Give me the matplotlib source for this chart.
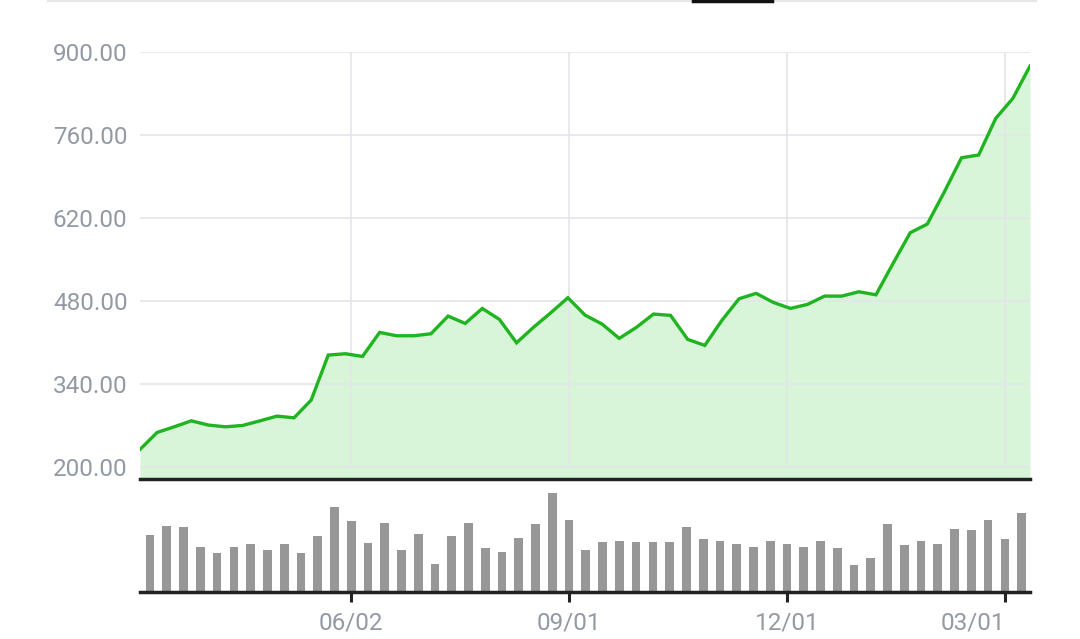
import matplotlib
matplotlib.use("Agg")
import matplotlib.pyplot as plt
from matplotlib.lines import Line2D
import numpy as np

plt.rcParams['font.family'] = ['Roboto', 'DejaVu Sans']

# ---- data ----
price = [229.8, 258.5, 268.0, 278.1, 270.9, 268.0, 270.3, 278.0, 286.0, 283.2,
         313.0, 389.0, 391.2, 386.7, 427.2, 421.5, 421.5, 424.9, 454.7, 442.3,
         467.6, 449.1, 409.7, 436.0, 460.3, 485.6, 456.4, 441.2, 417.1, 435.6,
         458.1, 455.9, 415.4, 405.3, 447.6, 483.9, 493.0, 477.8, 467.6, 474.4,
         488.4, 488.4, 495.7, 490.6, 543.6, 595.2, 609.9, 664.4, 721.7, 726.3,
         788.2, 821.9, 876.4]
volume = [56.7, 65.7, 64.4, 44.7, 38.7, 44.7, 47.7, 41.7, 47.7, 38.7,
          55.4, 85.0, 70.4, 49.0, 68.7, 41.7, 58.0, 28.4, 55.4, 68.7,
          43.4, 40.0, 53.7, 67.4, 99.0, 71.7, 41.7, 49.4, 50.7, 49.4,
          49.4, 49.4, 64.4, 52.4, 50.7, 47.7, 44.7, 50.7, 47.7, 44.7,
          50.7, 43.4, 26.7, 34.4, 67.4, 46.4, 50.7, 47.7, 62.7, 61.4,
          71.7, 52.4, 79.0]
tick_idx = [12, 25, 38, 51]
tick_labels = ['06/02', '09/01', '12/01', '03/01']
y_ticks = [200, 340, 480, 620, 760, 900]

LINE = '#20b420'
FILL = '#d9f5d9'
GRID = '#e4e5ea'
TXT = '#939aa4'
BAR = '#979797'

W, H = 1080, 639
fig = plt.figure(figsize=(W / 100, H / 100), dpi=100)

left = 140 / W
width = 890 / W
ax = fig.add_axes([left, 1 - 479 / H, width, (479 - 52) / H])
axb = fig.add_axes([left, 1 - 592 / H, width, (592 - 479) / H])

# ---- top price panel ----
n = len(price)
x = np.arange(n)
ax.set_xlim(0, n - 1)
ax.set_ylim(180, 900)
ax.fill_between(x, price, 180, color=FILL, lw=0, zorder=1)
ax.plot(x, price, color=LINE, lw=2.4, zorder=3, solid_joinstyle='miter')

bxlo, bxhi = -0.6, n - 0.5
for t in tick_idx:
    tx = (t - bxlo) / (bxhi - bxlo) * (n - 1)
    ax.vlines(tx, 200, 900, color=GRID, lw=1.2, zorder=2)
for yv in y_ticks:
    ax.axhline(yv, color=GRID, lw=1.2, zorder=2)

ax.set_yticks(y_ticks)
ax.set_yticklabels([f'{v:.2f}' for v in y_ticks])
ax.set_xticks([])
ax.tick_params(axis='y', length=0, pad=9, labelsize=17.5, labelcolor=TXT)
for s in ['top', 'right', 'left']:
    ax.spines[s].set_visible(False)
ax.spines['bottom'].set_color('#222222')
ax.spines['bottom'].set_linewidth(2.5)
ax.spines['bottom'].set_zorder(5)

# ---- bottom volume panel ----
axb.bar(np.arange(len(volume)), volume, width=0.52, color=BAR, zorder=2)
axb.set_xlim(bxlo, bxhi)
axb.set_ylim(0, 112.7)
axb.set_yticks([])
axb.set_xticks(tick_idx)
axb.set_xticklabels(tick_labels)
axb.tick_params(axis='x', direction='out', length=7, width=2.2, color='#222222',
                pad=7, labelsize=17.5, labelcolor=TXT)
axb.get_xticklabels()[-1].set_horizontalalignment('right')
for s in ['top', 'right', 'left']:
    axb.spines[s].set_visible(False)
axb.spines['bottom'].set_color('#222222')
axb.spines['bottom'].set_linewidth(2.5)
axb.patch.set_alpha(0)

# ---- screen decorations at top edge ----
fig.add_artist(Line2D([48 / W, 1036 / W], [1 - 0.5 / H, 1 - 0.5 / H],
                      color='#e6e6e6', lw=1.5, transform=fig.transFigure))
fig.add_artist(Line2D([693 / W, 772 / W], [1 - 1 / H, 1 - 1 / H],
                      color='#111111', lw=2.5, transform=fig.transFigure))

fig.savefig('out.png', dpi=100)
